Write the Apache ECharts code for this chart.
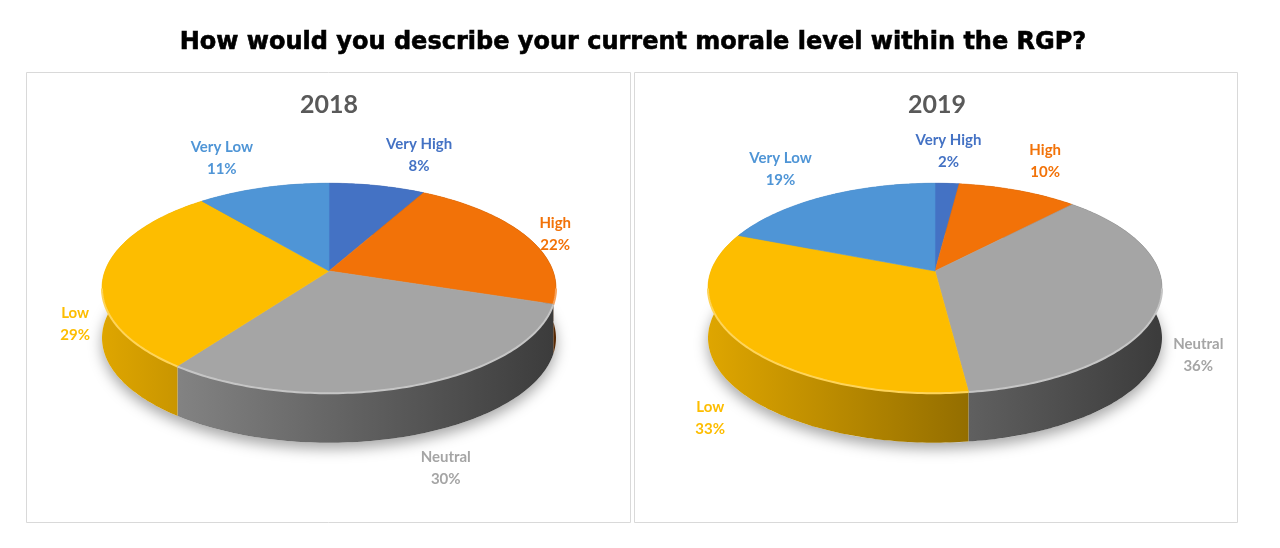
<!DOCTYPE html>
<html>
<head>
<meta charset="utf-8">
<script src="https://cdn.jsdelivr.net/npm/echarts@6/dist/echarts.min.js"></script>
<style>
  html, body { margin: 0; padding: 0; background: #fff; }
  #chart { width: 1280px; height: 548px; }
</style>
</head>
<body>
<div id="chart"></div>
<script>
// Data
const categories = ['Very High', 'High', 'Neutral', 'Low', 'Very Low'];
const years = ['2018', '2019'];
const values2018 = [8, 22, 30, 29, 11];
const values2019 = [2, 10, 36, 33, 19];

// Styling / layout
const sliceColors = ['#4472C4', '#F27208', '#A5A5A5', '#FDBD00', '#4F95D6'];
const PERSP = 0.162;   // perspective factor of the tilted disc
const RX = 224, RY = 102, DEPTH = 50;
const pieCenters = [[329, 271], [935, 271]];
const LABEL_GAP = 10, LINE_H = 22;
const labelFont = 'bold 15px Lato, "Open Sans", sans-serif';

// text measuring for centring the two label lines
const measureCtx = document.createElement('canvas').getContext('2d');
function textWidth(t) {
    measureCtx.font = labelFont;
    return measureCtx.measureText(t).width;
}

// project a point on the disc (angle clockwise from 12 o'clock, radius fraction r)
function project(c, ang, r) {
    const u = r * Math.sin(ang), v = r * Math.cos(ang);
    const w = 1 + PERSP * v;
    return [c[0] + RX * u / w, c[1] - RY * v / w];
}

function arcPoints(c, a0, a1, dy) {
    const pts = [];
    const n = Math.max(2, Math.ceil((a1 - a0) / (Math.PI / 180)));
    for (let i = 0; i <= n; i++) {
        const p = project(c, a0 + (a1 - a0) * i / n, 1);
        pts.push([p[0], p[1] + dy]);
    }
    return pts;
}

function shade(hex, f) {
    const n = parseInt(hex.slice(1), 16);
    const r = Math.round(((n >> 16) & 255) * f);
    const g = Math.round(((n >> 8) & 255) * f);
    const b = Math.round((n & 255) * f);
    return `rgb(${r},${g},${b})`;
}

function tint(hex, f) {
    const n = parseInt(hex.slice(1), 16);
    const mix = ch => Math.round(ch + (255 - ch) * f);
    return `rgb(${mix((n >> 16) & 255)},${mix((n >> 8) & 255)},${mix(n & 255)})`;
}

function toData(values) {
    const total = values.reduce((s, v) => s + v, 0);
    let acc = 0;
    return values.map((v, i) => {
        const start = acc;
        acc += v;
        return { name: categories[i], value: [v, start, total] };
    });
}

function angles(api) {
    const v = api.value(0), start = api.value(1), total = api.value(2);
    const a0 = start / total * Math.PI * 2;
    const a1 = (start + v) / total * Math.PI * 2;
    return [a0, a1, v];
}

// front arc of the rim (visible edge) is roughly between the two widest points
const FRONT_A0 = Math.acos(-PERSP), FRONT_A1 = Math.PI * 2 - Math.acos(-PERSP);

function buildSeries(values, pieIdx) {
    const c = pieCenters[pieIdx];
    const data = toData(values);
    const left = c[0] - RX * 1.02, right = c[0] + RX * 1.02;

    const shadow = {
        type: 'custom', coordinateSystem: 'none', silent: true, z: 1,
        data: [values.reduce((s, v) => s + v, 0)],
        renderItem: function () {
            return {
                type: 'polygon',
                shape: { points: arcPoints(c, 0, Math.PI * 2, DEPTH) },
                style: { fill: '#fff', shadowColor: 'rgba(0,0,0,0.35)', shadowBlur: 14, shadowOffsetY: 6 }
            };
        }
    };

    const sides = {
        type: 'custom', coordinateSystem: 'none', silent: true, z: 2,
        data: data,
        renderItem: function (params, api) {
            const [a0, a1] = angles(api);
            const col = sliceColors[params.dataIndex];
            const top = arcPoints(c, a0, a1, 0);
            const bottom = arcPoints(c, a0, a1, DEPTH).reverse();
            return {
                type: 'polygon',
                shape: { points: top.concat(bottom) },
                style: {
                    fill: {
                        type: 'linear', x: left, y: 0, x2: right, y2: 0, global: true,
                        colorStops: [
                            { offset: 0, color: shade(col, 0.88) },
                            { offset: 1, color: shade(col, 0.36) }
                        ]
                    }
                }
            };
        }
    };

    const tops = {
        type: 'custom', coordinateSystem: 'none', silent: true, z: 3,
        data: data,
        renderItem: function (params, api) {
            const [a0, a1, v] = angles(api);
            const col = sliceColors[params.dataIndex];
            const pts = [c].concat(arcPoints(c, a0, a1, 0));
            const children = [{
                type: 'polygon',
                shape: { points: pts },
                style: { fill: col, stroke: col, lineWidth: 0.6 }
            }];

            // light bevel along the visible front rim
            const r0 = Math.max(a0, FRONT_A0), r1 = Math.min(a1, FRONT_A1);
            if (r1 > r0) {
                children.push({
                    type: 'polyline',
                    shape: { points: arcPoints(c, r0, r1, 0.5) },
                    style: { stroke: tint(col, 0.35), lineWidth: 2, fill: null }
                });
            }

            // label anchored just outside the slice edge
            const mid = (a0 + a1) / 2;
            const edge = project(c, mid, 1);
            let dx = edge[0] - c[0], dy = edge[1] - c[1];
            const len = Math.sqrt(dx * dx + dy * dy);
            dx /= len; dy /= len;
            const ex = edge[0], ey = edge[1] + (Math.cos(mid) < 0 ? DEPTH : 0);
            const px = ex + dx * LABEL_GAP, py = ey + dy * LABEL_GAP;

            const lines = [categories[params.dataIndex], v + '%'];
            const bw = Math.max.apply(null, lines.map(textWidth));
            let bx = px;
            if (dx > 0.3) bx = px + bw / 2 + 4;
            else if (dx < -0.3) bx = px - bw / 2 - 4;
            let blockTop = py - LINE_H;
            if (dy < -0.3) blockTop = py - 2 * LINE_H;
            else if (dy > 0.3) blockTop = py + 2;

            lines.forEach((t, i) => {
                children.push({
                    type: 'text',
                    x: bx, y: blockTop + LINE_H * i + LINE_H / 2,
                    style: {
                        text: t, fill: col, font: labelFont,
                        textAlign: 'center', textVerticalAlign: 'middle'
                    }
                });
            });

            return { type: 'group', children: children };
        }
    };

    return [shadow, sides, tops];
}

const chart = echarts.init(document.getElementById('chart'), null, { renderer: 'canvas' });

const option = {
    backgroundColor: '#fff',
    animation: false,
    title: [
        {
            text: 'How would you describe your current morale level within the RGP?',
            left: 633, top: 31, textAlign: 'center', padding: 0,
            textStyle: {
                fontSize: 24, fontWeight: 'bold', color: '#000',
                fontFamily: '"DejaVu Sans", sans-serif',
                textBorderColor: '#000', textBorderWidth: 0.6
            }
        },
        {
            text: years[0], left: 329, top: 92, textAlign: 'center', padding: 0,
            textStyle: { fontSize: 25, fontWeight: 'bold', color: '#595959', fontFamily: 'Lato, sans-serif' }
        },
        {
            text: years[1], left: 937, top: 92, textAlign: 'center', padding: 0,
            textStyle: { fontSize: 25, fontWeight: 'bold', color: '#595959', fontFamily: 'Lato, sans-serif' }
        }
    ],
    graphic: [
        { type: 'rect', shape: { x: 26.5, y: 72.5, width: 604, height: 450 }, style: { fill: 'none', stroke: '#d9d9d9', lineWidth: 1 }, z: 0 },
        { type: 'rect', shape: { x: 634.5, y: 72.5, width: 603, height: 450 }, style: { fill: 'none', stroke: '#d9d9d9', lineWidth: 1 }, z: 0 }
    ],
    series: buildSeries(values2018, 0).concat(buildSeries(values2019, 1))
};

chart.setOption(option);
</script>
</body>
</html>
